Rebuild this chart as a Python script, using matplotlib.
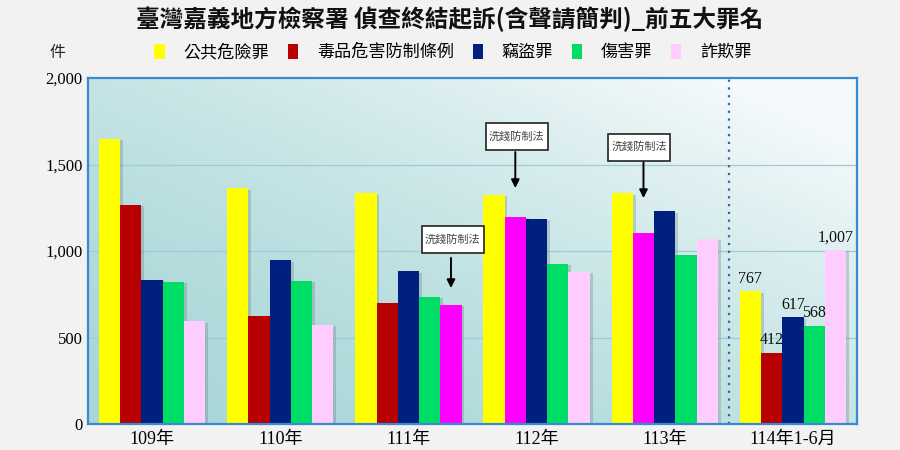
import matplotlib
matplotlib.use("Agg")
import matplotlib.pyplot as plt
import matplotlib.patheffects as pe
from matplotlib.patches import Patch, Rectangle
from matplotlib.ticker import FuncFormatter
import numpy as np

# ---------------- data ----------------
years = ["109年", "110年", "111年", "112年", "113年", "114年1-6月"]
series_names = ["公共危險罪", "毒品危害防制條例", "竊盜罪", "傷害罪", "詐欺罪"]
# values as drawn in each slot (slot 2 / slot 5 replaced by 洗錢防制法 in some years)
public_danger = [1650, 1362, 1333, 1324, 1333, 767]
slot2_values  = [1268, 622, 697, 1197, 1104, 412]   # 毒品 (112,113: 洗錢防制法)
theft         = [832, 946, 882, 1187, 1229, 617]
injury        = [821, 827, 736, 927, 977, 568]
slot5_values  = [593, 575, 690, 881, 1071, 1007]    # 詐欺 (111: 洗錢防制法)
# (year index, slot index) drawn as 洗錢防制法
money_laundering_slots = [(2, 4), (3, 1), (4, 1)]
labelled_year = 5
ml_label = "洗錢防制法"

series_colors = ["#ffff00", "#b80000", "#00207f", "#00dd66", "#ffccff"]
ml_color = "#ff00ff"

# ---------------- figure ----------------
plt.rcParams['font.family'] = ['Noto Sans CJK TC', 'DejaVu Sans']
fig = plt.figure(figsize=(9, 4.5), dpi=100, facecolor="#f2f2f2")
ax = fig.add_axes([88/900, 26/450, 769/900, 346/450])
ax.set_facecolor("none")

# gradient background
gx, gy = np.meshgrid(np.linspace(0, 1, 200), np.linspace(0, 1, 200))
t = np.clip(0.55 * gx + 0.55 * gy, 0, 1) ** 1.6
c0 = np.array([0.66, 0.84, 0.845])
c1 = np.array([0.96, 0.98, 0.985])
img = c0[None, None, :] + (c1 - c0)[None, None, :] * t[:, :, None]
ax.imshow(img, extent=[0, 1, 0, 1], transform=ax.transAxes, origin="lower",
          aspect="auto", zorder=0)

all_series = [public_danger, slot2_values, theft, injury, slot5_values]
n = len(years)
w = 0.166
x = np.arange(n)
shadow = [pe.SimplePatchShadow(offset=(2, -1), shadow_rgbFace="#556666", alpha=0.25), pe.Normal()]

for j, vals in enumerate(all_series):
    cols = [series_colors[j]] * n
    for (yi, sj) in money_laundering_slots:
        if sj == j:
            cols[yi] = ml_color
    bars = ax.bar(x + (j - 2) * w, vals, width=w, color=cols, zorder=3)
    for b in bars:
        b.set_path_effects(shadow)
    b = bars[labelled_year]
    ax.text(b.get_x() + b.get_width() / 2, vals[labelled_year] + 25,
            f"{vals[labelled_year]:,}", ha="center", va="bottom",
            fontsize=11.5, family=["Liberation Serif"], color="#111111", zorder=5)

# annotations for 洗錢防制法: (tip gap above bar, arrow length, box centre above tip, box x shift)
ann_layout = {(2, 4): (96, 174, 278, 0.015),
              (3, 1): (167, 208, 298, 0.01),
              (4, 1): (202, 208, 295, -0.035)}
box_w, box_h = 0.484, 156
for (yi, sj) in money_laundering_slots:
    bx = yi + (sj - 2) * w
    val = all_series[sj][yi]
    gap, alen, bup, bdx = ann_layout[(yi, sj)]
    tip = val + gap
    ax.annotate("", xy=(bx, tip), xytext=(bx, tip + alen),
                arrowprops=dict(arrowstyle="-|>", color="black", lw=1.4,
                                mutation_scale=12, shrinkA=0, shrinkB=0),
                zorder=6)
    cx, cy = bx + bdx, tip + bup
    ax.add_patch(Rectangle((cx - box_w / 2, cy - box_h / 2), box_w, box_h,
                           facecolor="white", edgecolor="#222222", lw=1.2, zorder=6))
    ax.text(cx, cy, ml_label, ha="center", va="center", fontsize=8,
            color="#444444", zorder=7)

# separator
ax.axvline(4.5, color="#2a6a9a", linestyle=(0, (1, 2.5)), lw=1.6, zorder=2)

ax.set_xlim(-0.5, n - 0.5)
ax.set_ylim(0, 2000)
ax.set_yticks([0, 500, 1000, 1500, 2000])
ax.yaxis.set_major_formatter(FuncFormatter(lambda v, p: f"{int(v):,}"))
for yv in [500, 1000, 1500]:
    ax.axhline(yv, color="#9ccbdb", lw=0.9, zorder=1)
ax.set_xticks(x)
ax.set_xticklabels(years)
ax.tick_params(axis="both", length=0)
ax.tick_params(axis="y", pad=4)
ax.tick_params(axis="x", pad=5)
for lbl in ax.get_yticklabels():
    lbl.set_family(["Liberation Serif"])
    lbl.set_fontsize(12)
for lbl in ax.get_xticklabels():
    lbl.set_family(["Liberation Serif", "Noto Sans CJK TC"])
    lbl.set_fontsize(13)
for s in ax.spines.values():
    s.set_color("#3a8ad0")
    s.set_linewidth(1.6)
    s.set_zorder(8)

# title
fig.text(0.5, 1 - 19/450, "臺灣嘉義地方檢察署 偵查終結起訴(含聲請簡判)_前五大罪名",
         ha="center", va="center", fontsize=17, fontweight="bold", color="#111111")
fig.text(58/900, 1 - 52/450, "件", ha="center", va="center", fontsize=11.5, color="#222222")

handles = [Patch(facecolor=c, edgecolor="none") for c in series_colors]
fig.legend(handles, series_names, loc="center", bbox_to_anchor=(453/900, 1 - 52/450),
           ncol=5, frameon=False, fontsize=12.3, handlelength=0.6, handleheight=1.0,
           handletextpad=1.1, columnspacing=1.1)

fig.savefig("out.png", dpi=100, facecolor=fig.get_facecolor())
